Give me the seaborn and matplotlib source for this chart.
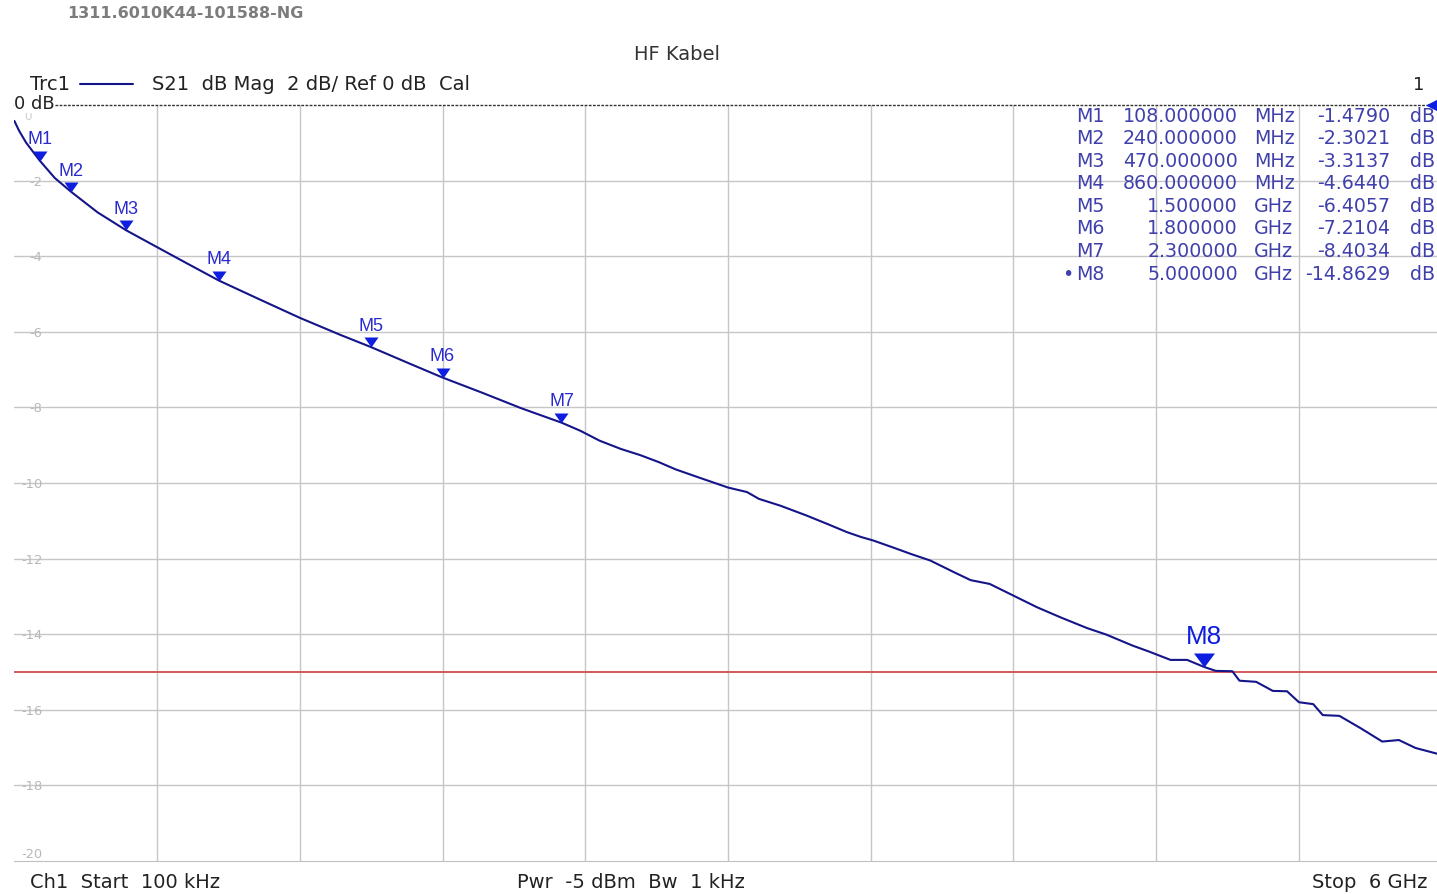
import numpy as np
import pandas as pd
import seaborn as sns
import matplotlib.pyplot as plt
from matplotlib.lines import Line2D

# trace (GHz, dB)
freq_ghz = [0.0001, 0.02, 0.05, 0.108, 0.17, 0.24, 0.35, 0.47, 0.6, 0.72, 0.86,
            1.03, 1.2, 1.37, 1.5, 1.65, 1.8, 1.97, 2.13, 2.3, 2.38, 2.46, 2.55,
            2.63, 2.71, 2.78, 2.88, 3.0, 3.08, 3.13, 3.22, 3.33, 3.42, 3.5, 3.56,
            3.61, 3.7, 3.77, 3.85, 3.95, 4.02, 4.1, 4.2, 4.3, 4.4, 4.51, 4.59,
            4.7, 4.77, 4.86, 4.93, 5.0, 5.05, 5.12, 5.15, 5.22, 5.29, 5.35, 5.4,
            5.46, 5.5, 5.57, 5.66, 5.75, 5.82, 5.89, 5.98, 6.0]
s21_db = [-0.42, -0.68, -1.0, -1.479, -1.93, -2.302, -2.84, -3.314, -3.76, -4.17, -4.644,
          -5.14, -5.63, -6.08, -6.406, -6.81, -7.21, -7.62, -8.02, -8.403, -8.62, -8.88, -9.10,
          -9.26, -9.45, -9.64, -9.86, -10.12, -10.24, -10.42, -10.60, -10.86, -11.09, -11.30, -11.43,
          -11.52, -11.72, -11.88, -12.05, -12.36, -12.57, -12.67, -12.98, -13.29, -13.56, -13.84, -14.01,
          -14.30, -14.46, -14.68, -14.68, -14.8629, -14.97, -14.98, -15.23, -15.26, -15.50, -15.51, -15.80,
          -15.85, -16.14, -16.16, -16.49, -16.84, -16.80, -17.01, -17.16, -17.18]

marker_names = ['M1', 'M2', 'M3', 'M4', 'M5', 'M6', 'M7', 'M8']
marker_ghz = [0.108, 0.24, 0.47, 0.86, 1.5, 1.8, 2.3, 5.0]
marker_db = [-1.4790, -2.3021, -3.3137, -4.6440, -6.4057, -7.2104, -8.4034, -14.8629]

limit_db = -15
ytick_vals = [-20, -18, -16, -14, -12, -10, -8, -6, -4, -2, 0]
ytick_text = ['-20', '-18', '-16', '-14', '-12', '-10', '-8', '-6', '-4', '-2', '0']
xgrid = [0.6, 1.2, 1.8, 2.4, 3.0, 3.6, 4.2, 4.8, 5.4]

TRACE = '#15158a'
MBLUE = '#0d1ee0'
TXTBLUE = '#4040ac'
W, H = 1437, 894


def px(v):
    return v * 0.72


sns.set_style("white")
plt.rcParams['font.family'] = ['DejaVu Sans']

fig = plt.figure(figsize=(W / 100, H / 100), dpi=100)
ax = fig.add_axes([14.3 / W, 1 - 861 / H, (W - 14.3) / W, (861 - 105) / H])

df = pd.DataFrame({'f': freq_ghz, 'db': s21_db})
sns.lineplot(data=df, x='f', y='db', ax=ax, color=TRACE, lw=1.5,
             estimator=None, sort=False, zorder=4)

ax.set_xlim(0, (W - 14.3) / 237.9)
ax.set_ylim(-20, 0)
ax.set_xlabel('')
ax.set_ylabel('')

# grid
ax.set_xticks(xgrid)
ax.set_xticklabels([])
ax.set_yticks(ytick_vals)
ax.set_yticklabels(ytick_text[:-1] + [''])
ax.grid(True, color='#c6c6c6', lw=1.0)
ax.set_axisbelow(True)
ylines = ax.yaxis.get_gridlines()
ylines[0].set_visible(False)
ylines[-1].set_visible(False)
ax.tick_params(axis='x', length=0)
ax.tick_params(axis='y', length=0, pad=px(-28), labelsize=px(13), labelcolor='#b8b8b8')
for lab in ax.get_yticklabels():
    lab.set_fontfamily('Liberation Sans Narrow')
ax.get_yticklabels()[0].set_va('bottom')
# the "0" label sits just under the "0 dB" text
ax.annotate(ytick_text[-1], (0, ytick_vals[-1]), xytext=(px(14), px(-12)),
            textcoords='offset points', ha='center', va='center', fontsize=px(12),
            color='#d0d0d0', family='Liberation Sans Narrow')

for side in ['left', 'right']:
    ax.spines[side].set_visible(False)
ax.spines['bottom'].set_color('#c0c0c0')
ax.spines['top'].set_color('#333333')
ax.spines['top'].set_linestyle((0, (1, 2)))
ax.spines['top'].set_linewidth(1.0)

# limit line
ax.axhline(limit_db, color='#d45a5a', lw=1.4, zorder=3)

# markers: triangles with apex on the trace
tri = [(0, 0), (-0.7, 1), (0.7, 1)]
ax.scatter(marker_ghz[:-1], marker_db[:-1], marker=tri, s=px(20) ** 2,
           color=MBLUE, lw=0, zorder=5)
ax.scatter(marker_ghz[-1:], marker_db[-1:], marker=[(0, 0), (-0.75, 1), (0.75, 1)],
           s=px(28) ** 2, color=MBLUE, lw=0, zorder=5)
for name, f, v in zip(marker_names, marker_ghz, marker_db):
    big = name == 'M8'
    ax.annotate(name, (f, v), xytext=(0, px(30 if big else 21)), textcoords='offset points',
                ha='center', va='center', color=MBLUE if big else '#2a2ad0',
                fontsize=px(26 if big else 18), family='Liberation Sans', zorder=6)

# reference level arrow on the right
ax.plot([ax.get_xlim()[1]], [0], marker='<', ms=px(20), color=MBLUE, clip_on=False, zorder=6)

# marker table
for i, (name, f, v) in enumerate(zip(marker_names, marker_ghz, marker_db)):
    y = 1 - (116 + 22.6 * i) / H
    if f < 1:
        fs, unit = f"{f * 1000:.6f}", 'MHz'
    else:
        fs, unit = f"{f:.6f}", 'GHz'
    kw = dict(va='center', color=TXTBLUE, fontsize=px(19))
    if i == len(marker_names) - 1:
        fig.text(1062 / W, y, '•', ha='left', **kw)
    fig.text(1076 / W, y, name, ha='left', **kw)
    fig.text(1238 / W, y, fs, ha='right', **kw)
    fig.text(1254 / W, y, unit, ha='left', **kw)
    fig.text(1390 / W, y, f"{v:.4f}", ha='right', **kw)
    fig.text(1435 / W, y, 'dB', ha='right', **kw)

# header / footer texts
fig.text(67 / W, 1 - 14 / H, '1311.6010K44-101588-NG', ha='left', va='center',
         fontsize=px(16), fontweight='bold', color='#7c7c7c')
fig.text(677 / W, 1 - 55 / H, 'HF Kabel', ha='center', va='center',
         fontsize=px(19.5), color='#333333')
fig.text(30 / W, 1 - 85 / H, 'Trc1', ha='left', va='center', fontsize=px(19.5), color='#222222')
fig.add_artist(Line2D([80 / W, 133 / W], [1 - 84 / H, 1 - 84 / H], color=TRACE, lw=1.5,
                      transform=fig.transFigure))
fig.text(152 / W, 1 - 85 / H, 'S21  dB Mag  2 dB/ Ref 0 dB  Cal', ha='left', va='center',
         fontsize=px(19.5), color='#222222')
fig.text(1413 / W, 1 - 85 / H, '1', ha='left', va='center', fontsize=px(18), color='#222222')
fig.text(14 / W, 1 - 104 / H, '0 dB', ha='left', va='center', fontsize=px(18), color='#222222',
         bbox=dict(facecolor='white', edgecolor='none', pad=0))

fig.text(30 / W, 1 - 882 / H, 'Ch1  Start  100 kHz', ha='left', va='center',
         fontsize=px(19.5), color='#222222')
fig.text(517 / W, 1 - 882 / H, 'Pwr  -5 dBm  Bw  1 kHz', ha='left', va='center',
         fontsize=px(19.5), color='#222222')
fig.text(1428 / W, 1 - 882 / H, 'Stop  6 GHz', ha='right', va='center',
         fontsize=px(19.5), color='#222222')

fig.savefig('out.png', dpi=100)
